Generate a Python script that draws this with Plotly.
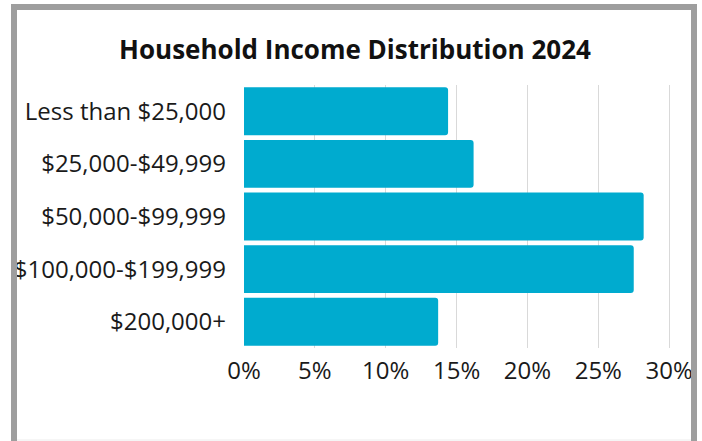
import plotly.graph_objects as go

categories = ["Less than $25,000", "$25,000-$49,999", "$50,000-$99,999",
              "$100,000-$199,999", "$200,000+"]
shares = [14.4, 16.2, 28.2, 27.5, 13.7]
tick_vals = [0, 5, 10, 15, 20, 25, 30]
tick_text = ["0%", "5%", "10%", "15%", "20%", "25%", "30%"]
title_text = "Household Income Distribution 2024"

W, H = 702, 441
L, R, T, B = 244, 30, 85, 93
pw, ph = W - L - R, H - T - B

def px_x(p):
    return (p - L) / pw

def px_y(p):
    return 1 - (p - T) / ph

fig = go.Figure(go.Bar(
    x=shares, y=categories, orientation="h",
    marker=dict(color="#00ABCF", cornerradius=3, line=dict(width=0)),
    hoverinfo="skip",
))

fig.update_layout(
    width=W, height=H,
    margin=dict(l=L, r=R, t=T, b=B, pad=0, autoexpand=False),
    paper_bgcolor="white", plot_bgcolor="white",
    bargap=0.09,
    showlegend=False,
    font=dict(family="Open Sans", size=24, color="#1a1a1a"),
    title=dict(text="<b>" + title_text + "</b>", x=355 / W, xref="container",
               xanchor="center", y=1 - 50 / H, yref="container", yanchor="middle",
               font=dict(family="Open Sans", size=26, color="#111111")),
    xaxis=dict(range=[0, 30.2], tickvals=tick_vals, ticktext=tick_text,
               showgrid=True, gridcolor="#d9d9d9", gridwidth=1,
               zeroline=False, showline=False, ticks="", automargin=False,
               ticklabelstandoff=6, tickfont=dict(size=24)),
    yaxis=dict(categoryorder="array", categoryarray=categories[::-1],
               showgrid=False, zeroline=False, showline=False, ticks="",
               automargin=False, ticklabelstandoff=17, tickfont=dict(size=24)),
    shapes=[
        dict(type="rect", xref="paper", yref="paper",
             x0=px_x(14), x1=px_x(694), y0=px_y(7), y1=px_y(470),
             line=dict(color="#9e9e9e", width=6), fillcolor="rgba(0,0,0,0)",
             layer="above"),
        dict(type="line", xref="paper", yref="paper",
             x0=px_x(17), x1=px_x(691), y0=px_y(440), y1=px_y(440),
             line=dict(color="#ececec", width=1)),
    ],
)

fig.write_html("out.html")
